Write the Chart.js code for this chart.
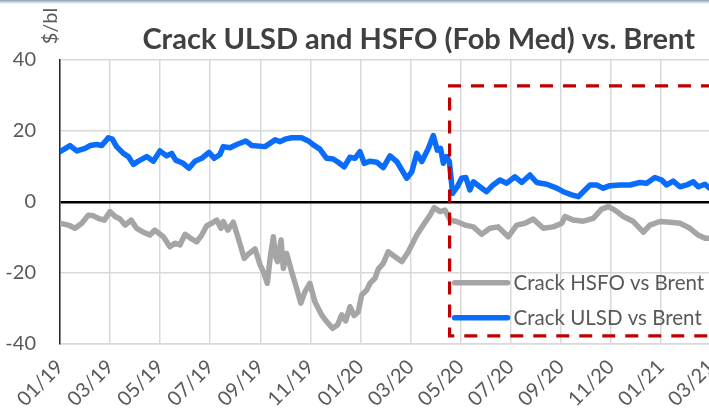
<!DOCTYPE html>
<html><head><meta charset="utf-8">
<script src="https://cdn.jsdelivr.net/npm/chart.js@4.4.0/dist/chart.umd.min.js"></script>
<style>
html,body{margin:0;padding:0;background:#fff;overflow:hidden;width:709px;height:413px;}
#wrap{position:absolute;left:0;top:0;width:740px;height:413px;}
#topbar{position:absolute;left:0;top:0;width:709px;height:4px;background:linear-gradient(#8aa2ba,#ffffff);}
</style></head><body>
<div id="wrap"><canvas id="c" width="740" height="413"></canvas></div>
<div id="topbar"></div>
<script>
const chartTitle = 'Crack ULSD and HSFO (Fob Med) vs. Brent';
const unitLabel = '$/bl';
const xTickLabels = ['01/19','03/19','05/19','07/19','09/19','11/19','01/20','03/20','05/20','07/20','09/20','11/20','01/21','03/21'];
const yTickValues = [-40,-20,0,20,40];
const seriesNames = ['Crack HSFO vs Brent','Crack ULSD vs Brent'];

// x in months since Jan 2019
const hsfoMonths = [0.00,0.33,0.60,0.87,1.13,1.33,1.53,1.77,2.00,2.20,2.40,2.60,2.84,3.06,3.33,3.59,3.79,4.13,4.39,4.59,4.79,4.99,5.19,5.46,5.66,5.86,6.06,6.26,6.43,6.52,6.70,6.92,7.12,7.36,7.52,7.79,7.99,8.12,8.28,8.39,8.52,8.61,8.69,8.83,8.92,9.05,9.25,9.45,9.62,9.78,9.98,10.18,10.45,10.65,10.89,11.09,11.25,11.41,11.58,11.75,11.91,12.05,12.25,12.38,12.58,12.71,12.91,13.11,13.38,13.65,13.91,14.25,14.51,14.78,14.94,15.18,15.38,15.58,15.84,16.17,16.51,16.84,17.17,17.50,17.90,18.24,18.57,18.90,19.30,19.70,20.04,20.17,20.50,20.90,21.30,21.63,21.90,22.16,22.50,22.90,23.30,23.56,23.96,24.36,24.76,25.16,25.49,25.76,25.92];
const hsfoValues = [-6.0,-6.5,-7.4,-6.0,-3.7,-3.9,-4.6,-5.1,-2.7,-4.1,-4.8,-6.5,-5.1,-7.4,-8.5,-9.3,-7.9,-9.8,-12.6,-11.6,-12.1,-9.1,-10.1,-11.2,-9.3,-6.7,-6.0,-5.1,-7.4,-5.5,-7.9,-5.7,-10.2,-15.9,-14.7,-13.2,-17.7,-19.6,-22.9,-15.9,-9.8,-15.4,-16.8,-10.7,-18.7,-14.5,-19.6,-24.3,-28.5,-25.3,-22.9,-28.1,-31.8,-33.7,-35.6,-34.6,-31.8,-33.5,-29.5,-32.0,-30.9,-26.2,-24.8,-22.9,-21.5,-18.9,-17.3,-14.0,-15.4,-16.8,-14.0,-9.3,-6.5,-3.7,-1.6,-2.7,-2.3,-5.1,-5.5,-6.5,-7.0,-9.1,-7.4,-7.0,-9.8,-6.5,-6.0,-4.8,-7.4,-7.0,-6.0,-4.1,-5.1,-5.4,-4.6,-2.0,-1.3,-2.3,-4.1,-5.5,-8.5,-6.5,-5.5,-5.7,-6.0,-7.4,-9.3,-10.2,-10.2];

const ulsdMonths = [0.00,0.40,0.67,1.00,1.20,1.47,1.67,1.93,2.09,2.26,2.53,2.73,2.93,3.13,3.46,3.73,3.99,4.26,4.46,4.62,4.92,5.15,5.39,5.66,5.95,6.16,6.39,6.52,6.79,7.06,7.42,7.66,8.19,8.59,8.79,8.99,9.25,9.65,9.92,10.12,10.38,10.65,10.91,11.11,11.35,11.58,11.78,11.98,12.15,12.38,12.65,12.91,13.18,13.45,13.85,14.05,14.25,14.45,14.71,14.91,15.07,15.20,15.31,15.44,15.55,15.68,15.87,16.04,16.21,16.37,16.51,16.77,17.04,17.30,17.57,17.84,18.17,18.44,18.77,19.04,19.44,19.84,20.10,20.44,20.70,20.90,21.17,21.43,21.70,21.96,22.36,22.76,23.16,23.43,23.76,24.03,24.23,24.49,24.76,25.03,25.29,25.49,25.76,25.92];
const ulsdValues = [14.2,15.9,14.4,15.1,15.9,16.2,15.9,18.1,17.7,15.6,13.7,12.8,10.6,11.5,12.8,11.5,14.4,13.0,13.7,11.8,10.9,9.5,11.5,12.3,14.0,12.3,13.4,15.6,15.3,16.2,17.2,15.9,15.6,17.5,17.0,17.7,18.1,18.1,17.2,16.1,14.9,12.3,12.1,11.2,9.9,12.6,12.3,14.2,10.9,11.5,11.2,9.7,13.0,11.4,6.7,8.5,13.7,11.4,15.1,18.7,14.6,15.1,10.9,12.8,11.4,2.4,4.3,6.7,6.9,3.4,5.7,4.3,2.9,4.8,6.2,5.3,7.1,5.5,7.6,5.5,5.0,3.9,2.9,2.0,1.5,2.9,4.8,4.8,3.9,4.6,4.8,4.8,5.5,5.3,6.9,6.2,4.8,5.9,4.3,4.8,5.7,4.3,5.0,4.0];

// highlighted period box (data units)
const boxFromMonth = 15.56, boxTopValue = 32.7, boxBottomValue = -37.7;

const FONT = 'Lato';
const TEXT = '#595959';

const toPts = (xs, ys) => xs.map((x, i) => ({x, y: ys[i]}));

const extras = {
  id: 'extras',
  afterDatasetsDraw(chart) {
    const {ctx, scales: {x, y}} = chart;
    const l = x.getPixelForValue(boxFromMonth);
    const t = y.getPixelForValue(boxTopValue);
    const b = y.getPixelForValue(boxBottomValue);
    ctx.save();
    ctx.strokeStyle = '#C00000';
    ctx.lineWidth = 3.2;
    ctx.setLineDash([13, 10]);
    ctx.beginPath();
    ctx.moveTo(chart.width + 20, t);
    ctx.lineTo(l, t);
    ctx.lineTo(l, b);
    ctx.lineTo(chart.width + 20, b);
    ctx.stroke();
    ctx.restore();
    ctx.save();
    const rows = [b - 53, b - 18];
    chart.data.datasets.forEach((ds, i) => {
      const ry = rows[i];
      ctx.strokeStyle = ds.borderColor;
      ctx.lineWidth = 5.5;
      ctx.lineCap = 'round';
      ctx.beginPath();
      ctx.moveTo(l + 5, ry);
      ctx.lineTo(l + 58, ry);
      ctx.stroke();
      ctx.fillStyle = TEXT;
      ctx.font = '20.5px ' + FONT;
      ctx.textAlign = 'left';
      ctx.textBaseline = 'middle';
      ctx.fillText(ds.label, l + 64, ry + 1);
    });
    ctx.restore();
  },
  afterDraw(chart) {
    const {ctx} = chart;
    ctx.save();
    ctx.fillStyle = '#404040';
    ctx.font = 'bold 29px ' + FONT;
    ctx.textAlign = 'right';
    ctx.textBaseline = 'alphabetic';
    ctx.fillText(chartTitle, 695, 49);
    ctx.translate(51, 26);
    ctx.rotate(-Math.PI / 2);
    ctx.fillStyle = TEXT;
    ctx.font = '20px ' + FONT;
    ctx.textAlign = 'center';
    ctx.textBaseline = 'middle';
    ctx.fillText(unitLabel, 0, 0);
    ctx.restore();
  }
};

new Chart(document.getElementById('c'), {
  type: 'line',
  data: {
    datasets: [
      {label: seriesNames[0], data: toPts(hsfoMonths, hsfoValues), borderColor: '#A5A5A5', borderWidth: 5.5, pointRadius: 0, tension: 0, borderJoinStyle: 'round', borderCapStyle: 'round'},
      {label: seriesNames[1], data: toPts(ulsdMonths, ulsdValues), borderColor: '#0A6CFA', borderWidth: 5.5, pointRadius: 0, tension: 0, borderJoinStyle: 'round', borderCapStyle: 'round'}
    ]
  },
  options: {
    responsive: false,
    animation: false,
    devicePixelRatio: 1,
    layout: {padding: {top: 60, right: 28, bottom: 0, left: 0}},
    plugins: {legend: {display: false}, title: {display: false}, tooltip: {enabled: false}},
    scales: {
      x: {
        type: 'linear', min: 0, max: 26.04,
        ticks: {
          stepSize: 2, includeBounds: false, autoSkip: false, maxRotation: 45, minRotation: 45,
          color: TEXT, font: {family: FONT, size: 20}, padding: 11,
          callback: v => xTickLabels[Math.round(v / 2)] ?? ''
        },
        grid: {color: '#D9D9D9', lineWidth: 1.5, drawTicks: false},
        border: {color: '#D9D9D9', width: 1.5},
        afterFit: s => { s.height = 69; }
      },
      y: {
        min: yTickValues[0], max: yTickValues[yTickValues.length - 1],
        afterBuildTicks: s => { s.ticks = yTickValues.map(v => ({value: v})); },
        ticks: {color: TEXT, font: {family: FONT, size: 20}, padding: 24},
        grid: {
          color: c => c.tick && c.tick.value === 0 ? '#000000' : '#D9D9D9',
          lineWidth: c => c.tick && c.tick.value === 0 ? 2.5 : 1.5,
          drawTicks: false
        },
        border: {color: '#262626', width: 1.5},
        afterFit: s => { s.width = 60; }
      }
    }
  },
  plugins: [extras]
});
</script>
</body></html>
